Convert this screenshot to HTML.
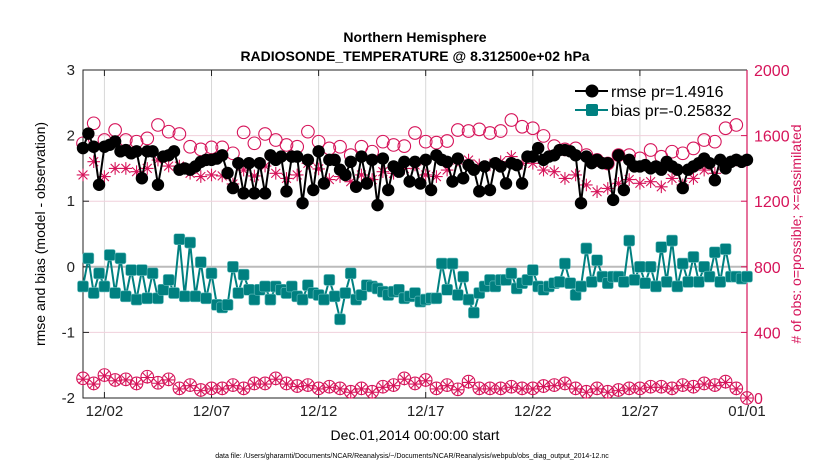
<!DOCTYPE html>
<html><head><meta charset="utf-8"><style>
html,body{margin:0;padding:0;background:#fff;}
svg{display:block;font-family:"Liberation Sans",Arial,sans-serif;}
</style></head><body>
<svg id="chart" width="830" height="470" viewBox="0 0 830 470" xmlns="http://www.w3.org/2000/svg">
<text x="415" y="42" text-anchor="middle" font-size="14" font-weight="bold">Northern Hemisphere</text>
<text x="415" y="61" text-anchor="middle" font-size="14" font-weight="bold">RADIOSONDE_TEMPERATURE @ 8.312500e+02 hPa</text>
<text transform="translate(45,234) rotate(-90)" text-anchor="middle" font-size="14">rmse and bias (model - observation)</text>
<text transform="translate(801,234) rotate(-90)" text-anchor="middle" font-size="14" fill="#d6145a"># of obs: o=possible; ×=assimilated</text>
<text x="415" y="440" text-anchor="middle" font-size="14">Dec.01,2014 00:00:00 start</text>
<text x="412" y="458" text-anchor="middle" font-size="7">data file: /Users/gharamti/Documents/NCAR/Reanalysis/~/Documents/NCAR/Reanalysis/webpub/obs_diag_output_2014-12.nc</text>
<g id="grid"></g><g id="axes"></g><g id="series"></g><g id="legend"></g>
</svg>
<script>
const xTickLabels=["12/02","12/07","12/12","12/17","12/22","12/27","01/01"];
const xTickDays=[1,6,11,16,21,26,31];
const leftTicks=[3,2,1,0,-1,-2];
const rightTicks=[2000,1600,1200,800,400,0];
const rmse=[1.81,2.03,1.83,1.25,1.83,1.86,1.91,1.76,1.78,1.73,1.76,1.35,1.76,1.76,1.25,1.68,1.70,1.76,1.48,1.50,1.48,1.53,1.60,1.63,1.63,1.65,1.70,1.43,1.20,1.58,1.12,1.58,1.12,1.58,1.12,1.70,1.63,1.68,1.15,1.68,1.68,0.97,
1.63,1.17,1.76,1.27,1.63,1.63,1.48,1.40,1.60,1.22,1.68,1.27,1.63,0.94,1.65,1.17,1.53,1.45,1.60,1.30,1.60,1.27,1.63,1.17,1.70,1.63,1.60,1.30,1.65,1.35,1.55,1.48,1.15,1.53,1.17,1.58,1.53,1.27,1.58,1.55,1.27,
1.68,1.68,1.81,1.63,1.68,1.70,1.78,1.78,1.76,1.70,0.97,1.68,1.58,1.63,1.58,1.58,1.02,1.70,1.17,1.63,1.53,1.53,1.55,1.50,1.53,1.48,1.60,1.53,1.48,1.20,1.48,1.53,1.58,1.65,1.58,1.32,1.63,1.50,1.60,1.63,1.60,1.63];
const bias=[-0.3,0.13,-0.4,-0.1,-0.3,0.18,-0.4,0.13,-0.45,-0.05,-0.5,-0.05,-0.48,-0.1,-0.48,-0.35,-0.2,-0.4,0.42,-0.45,0.37,-0.45,0.07,-0.48,-0.1,-0.58,-0.62,-0.58,0.0,-0.4,-0.12,-0.35,-0.5,-0.35,-0.3,-0.5,-0.3,-0.35,-0.4,-0.3,-0.45,
-0.5,-0.28,-0.4,-0.43,-0.5,-0.2,-0.45,-0.8,-0.4,-0.1,-0.5,-0.43,-0.28,-0.3,-0.33,-0.38,-0.43,-0.38,-0.35,-0.48,-0.45,-0.4,-0.53,-0.5,-0.48,-0.48,0.05,-0.35,0.05,-0.43,-0.15,-0.5,-0.7,-0.4,-0.3,-0.2,-0.3,-0.2,-0.2,-0.1,-0.33,-0.25,
-0.2,-0.05,-0.3,-0.35,-0.3,-0.25,-0.23,0.05,-0.25,-0.43,-0.3,0.28,-0.23,0.1,-0.15,-0.25,-0.15,-0.15,-0.23,0.4,-0.2,0,-0.25,0,-0.3,0.3,-0.23,0.4,-0.3,0.05,-0.23,0.15,-0.23,0,-0.15,0.22,-0.23,0.27,-0.15,-0.15,-0.18,-0.15];
const possible=[1553,1675,1573,1634,1573,1563,1583,1665,1624,1610,1532,1516,1528,1528,1492,1620,1553,1610,1573,1543,1532,1624,
1563,1522,1532,1481,1532,1502,1563,1543,1536,1616,1563,1557,1567,1634,1628,1638,1616,1628,1695,1654,
1645,1598,1536,1516,1522,1481,1451,1430,1481,1481,1461,1512,1471,1502,1492,1522,1573,1563,1645,1665];
const assimilated=[1360,1441,1350,1400,1400,1380,1400,1451,1414,1414,1370,1350,1360,1354,1305,1390,1354,1414,1370,1339,1360,1431,
1397,1332,1350,1319,1360,1332,1380,1370,1400,1421,1360,1350,1390,1451,1451,1421,1421,1441,1472,1431,
1431,1390,1380,1339,1360,1299,1258,1278,1309,1332,1309,1319,1288,1339,1299,1339,1390,1370,1410,1451];
const possibleLow=[120,89,140,110,114,89,130,93,114,59,79,49,59,59,79,59,89,89,120,89,73,
79,59,69,59,38,59,38,69,79,120,89,110,59,79,53,100,59,59,59,69,59,
59,73,79,89,59,38,59,38,49,59,59,69,69,59,79,69,89,79,100,59,0];
const assimilatedLow=[115,85,135,105,110,85,125,90,110,55,75,45,55,55,75,55,85,85,115,85,70,
75,55,65,55,35,55,35,65,75,115,85,105,55,75,50,95,55,55,55,65,55,
55,70,75,85,55,35,55,35,45,55,55,65,65,55,75,65,85,75,95,55,0];

const NS="http://www.w3.org/2000/svg";
const L=83,R=747,T=70,B=398;
const X=d=>L+(R-L)*d/31;
const YL=v=>B-(B-T)*(v+2)/5;
const YR=c=>B-(B-T)*c/2000;
const CR="#d6145a",TEAL="#008080";
function mk(tag,attrs,parent){const e=document.createElementNS(NS,tag);for(const k in attrs)e.setAttribute(k,attrs[k]);parent.appendChild(e);return e;}
const grid=document.getElementById('grid'),axes=document.getElementById('axes'),ser=document.getElementById('series'),leg=document.getElementById('legend');

mk('rect',{x:L,y:T,width:R-L,height:B-T,fill:'#fff'},grid);
xTickDays.forEach((d,i)=>{
  const g=mk('line',{x1:X(d),x2:X(d),y1:T,y2:B,stroke:'#d8d8d8','stroke-width':1},grid);
  
  
  mk('line',{x1:X(d),x2:X(d),y1:B,y2:B-6,stroke:'#222'},axes);
  mk('line',{x1:X(d),x2:X(d),y1:T,y2:T+6,stroke:'#222'},axes);
  const t=mk('text',{x:X(d),y:416,'text-anchor':'middle','font-size':15,fill:'#222'},axes);
  t.textContent=xTickLabels[i];
  
  
});
leftTicks.forEach(v=>{
  if(v!==0&&v!==3&&v!==-2){const g=mk('line',{x1:L,x2:R,y1:YL(v),y2:YL(v),stroke:'#f0d0dc','stroke-width':1},grid);
  
  }
  mk('line',{x1:L,x2:L+6,y1:YL(v),y2:YL(v),stroke:'#222'},axes);
  const t=mk('text',{x:L-8,y:YL(v)+5,'text-anchor':'end','font-size':15,fill:'#222'},axes);
  t.textContent=v;
  
  
});
rightTicks.forEach(c=>{
  mk('line',{x1:R,x2:R-6,y1:YR(c),y2:YR(c),stroke:CR},axes);
  const t=mk('text',{x:R+7,y:YR(c)+6,'font-size':16,fill:CR},axes);
  t.textContent=c;
  
  
});
const zl=mk('line',{x1:L,x2:R,y1:YL(0),y2:YL(0),stroke:'#bbb','stroke-width':2},grid);


mk('path',{d:`M${R},${T}H${L}V${B}H${R}`,fill:'none',stroke:'#222','stroke-width':1},axes);
const ra=mk('line',{x1:R,x2:R,y1:T,y2:B,stroke:CR,'stroke-width':1.2},axes);



function star(x,y,r,g){let d='';for(let k=0;k<4;k++){const a=k*Math.PI/4;d+=`M${x-r*Math.cos(a)},${y-r*Math.sin(a)}L${x+r*Math.cos(a)},${y+r*Math.sin(a)}`;}return mk('path',{d:d,stroke:CR,'stroke-width':1.1,fill:'none'},g);}

const gP=mk('g',{},ser);
possible.forEach((c,j)=>{const e=mk('circle',{cx:X(j*0.5),cy:YR(c),r:6.3,fill:'none',stroke:CR,'stroke-width':1.1},gP);
  
  });
const gA=mk('g',{},ser);
assimilated.forEach((c,j)=>{const e=star(X(j*0.5),YR(c),6.3,gA);
  
  });
const gPL=mk('g',{},ser);
possibleLow.forEach((c,j)=>{const e=mk('circle',{cx:X(j*0.5),cy:YR(c),r:6.3,fill:'none',stroke:CR,'stroke-width':1.1},gPL);
  
  });
assimilatedLow.forEach((c,j)=>{const e=star(X(j*0.5),YR(c),6.3,gPL);
  
  });

const gR=mk('g',{},ser);
const rl=mk('polyline',{points:rmse.map((v,i)=>X(i*0.25)+','+YL(v)).join(' '),fill:'none',stroke:'#000','stroke-width':2},gR);


rmse.forEach((v,i)=>{const e=mk('circle',{cx:X(i*0.25),cy:YL(v),r:6.2,fill:'#000'},gR);
  
  });
const gB=mk('g',{},ser);
const bl=mk('polyline',{points:bias.map((v,i)=>X(i*0.25)+','+YL(v)).join(' '),fill:'none',stroke:TEAL,'stroke-width':2},gB);


bias.forEach((v,i)=>{const e=mk('rect',{x:X(i*0.25)-5.5,y:YL(v)-5.5,width:11,height:11,rx:2,fill:TEAL,stroke:'#6cc0c0','stroke-width':0.6},gB);
  
  });

const lr=mk('g',{},leg);
mk('line',{x1:575,x2:608,y1:91,y2:91,stroke:'#000','stroke-width':2},lr);
mk('circle',{cx:592,cy:91,r:6.5,fill:'#000'},lr);
const t1=mk('text',{x:611,y:97,'font-size':16},lr);t1.textContent='rmse pr=1.4916';
const lb=mk('g',{},leg);
mk('line',{x1:575,x2:608,y1:110,y2:110,stroke:TEAL,'stroke-width':2},lb);
mk('rect',{x:586,y:104,width:12,height:12,rx:2,fill:TEAL},lb);
const t2=mk('text',{x:611,y:116,'font-size':16},lb);t2.textContent='bias pr=-0.25832';
</script>
</body></html>
